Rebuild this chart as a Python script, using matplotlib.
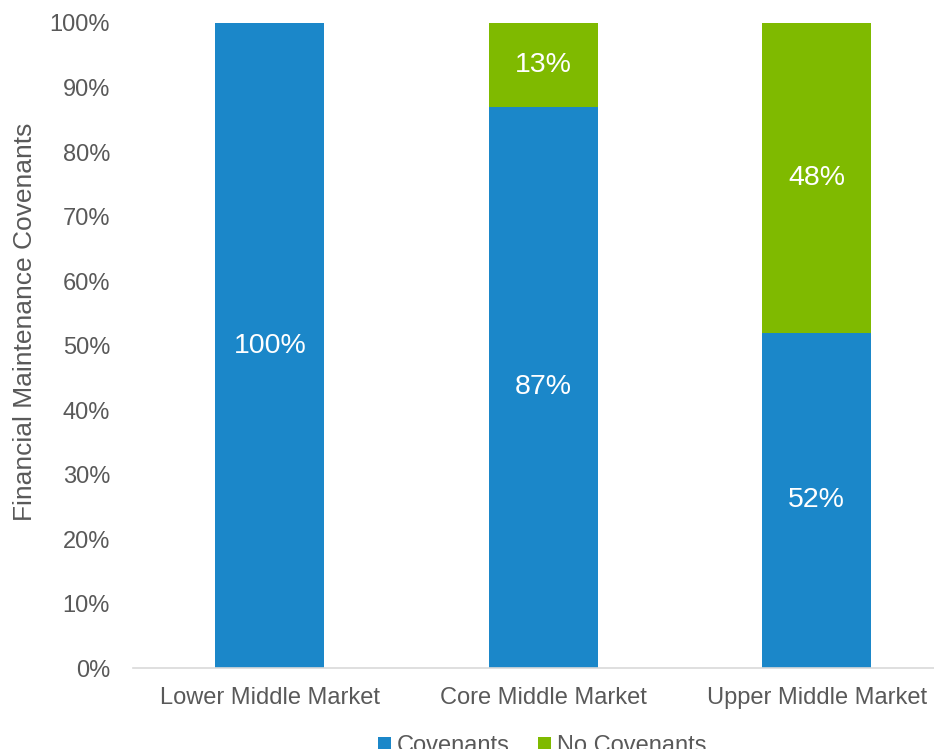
import matplotlib.pyplot as plt
import numpy as np

plt.rcParams['font.family'] = ['Liberation Sans', 'DejaVu Sans']

categories = ['Lower Middle Market', 'Core Middle Market', 'Upper Middle Market']
covenants = [100, 87, 52]
no_covenants = [0, 13, 48]

blue = '#1B87C9'
green = '#7FBA00'
grey = '#595959'

fig = plt.figure(figsize=(9.34, 7.49), dpi=100)
ax = fig.add_axes([0.1424, 0.1081, 0.8785, 0.8612])

x = np.arange(len(categories))
b1 = ax.bar(x, covenants, width=0.4, color=blue, label='Covenants')
b2 = ax.bar(x, no_covenants, width=0.4, bottom=covenants, color=green, label='No Covenants')

# value labels inside the segments
for xi, c, n in zip(x, covenants, no_covenants):
    if c > 0:
        ax.text(xi, c / 2, f'{c}%', ha='center', va='center', color='white', fontsize=20.5)
    if n > 0:
        ax.text(xi, c + n / 2, f'{n}%', ha='center', va='center', color='white', fontsize=20.5)

ax.set_xlim(-0.5, 2.5)
ax.set_ylim(0, 100)
ax.set_yticks(np.arange(0, 101, 10))
ax.set_yticklabels([f'{v}%' for v in range(0, 101, 10)])
ax.set_xticks(x)
ax.set_xticklabels(categories)
ax.tick_params(axis='both', length=0, labelsize=17, labelcolor=grey)
ax.tick_params(axis='y', pad=16.5)
ax.tick_params(axis='x', pad=13.5)

for s in ['top', 'right', 'left']:
    ax.spines[s].set_visible(False)
ax.spines['bottom'].set_color('#D9D9D9')
ax.spines['bottom'].set_linewidth(1.2)

ax.set_ylabel('Financial Maintenance Covenants', fontsize=19, color=grey)
ax.yaxis.set_label_coords(-0.117, 0.536)

fig.legend(handles=[b1, b2], loc='center', bbox_to_anchor=(542 / 934, 1 - 746 / 749),
           ncol=2, frameon=False, fontsize=17, labelcolor=grey,
           handlelength=0.55, handleheight=0.55, handletextpad=0.25, columnspacing=1.2)

fig.savefig('out.png', dpi=100)
